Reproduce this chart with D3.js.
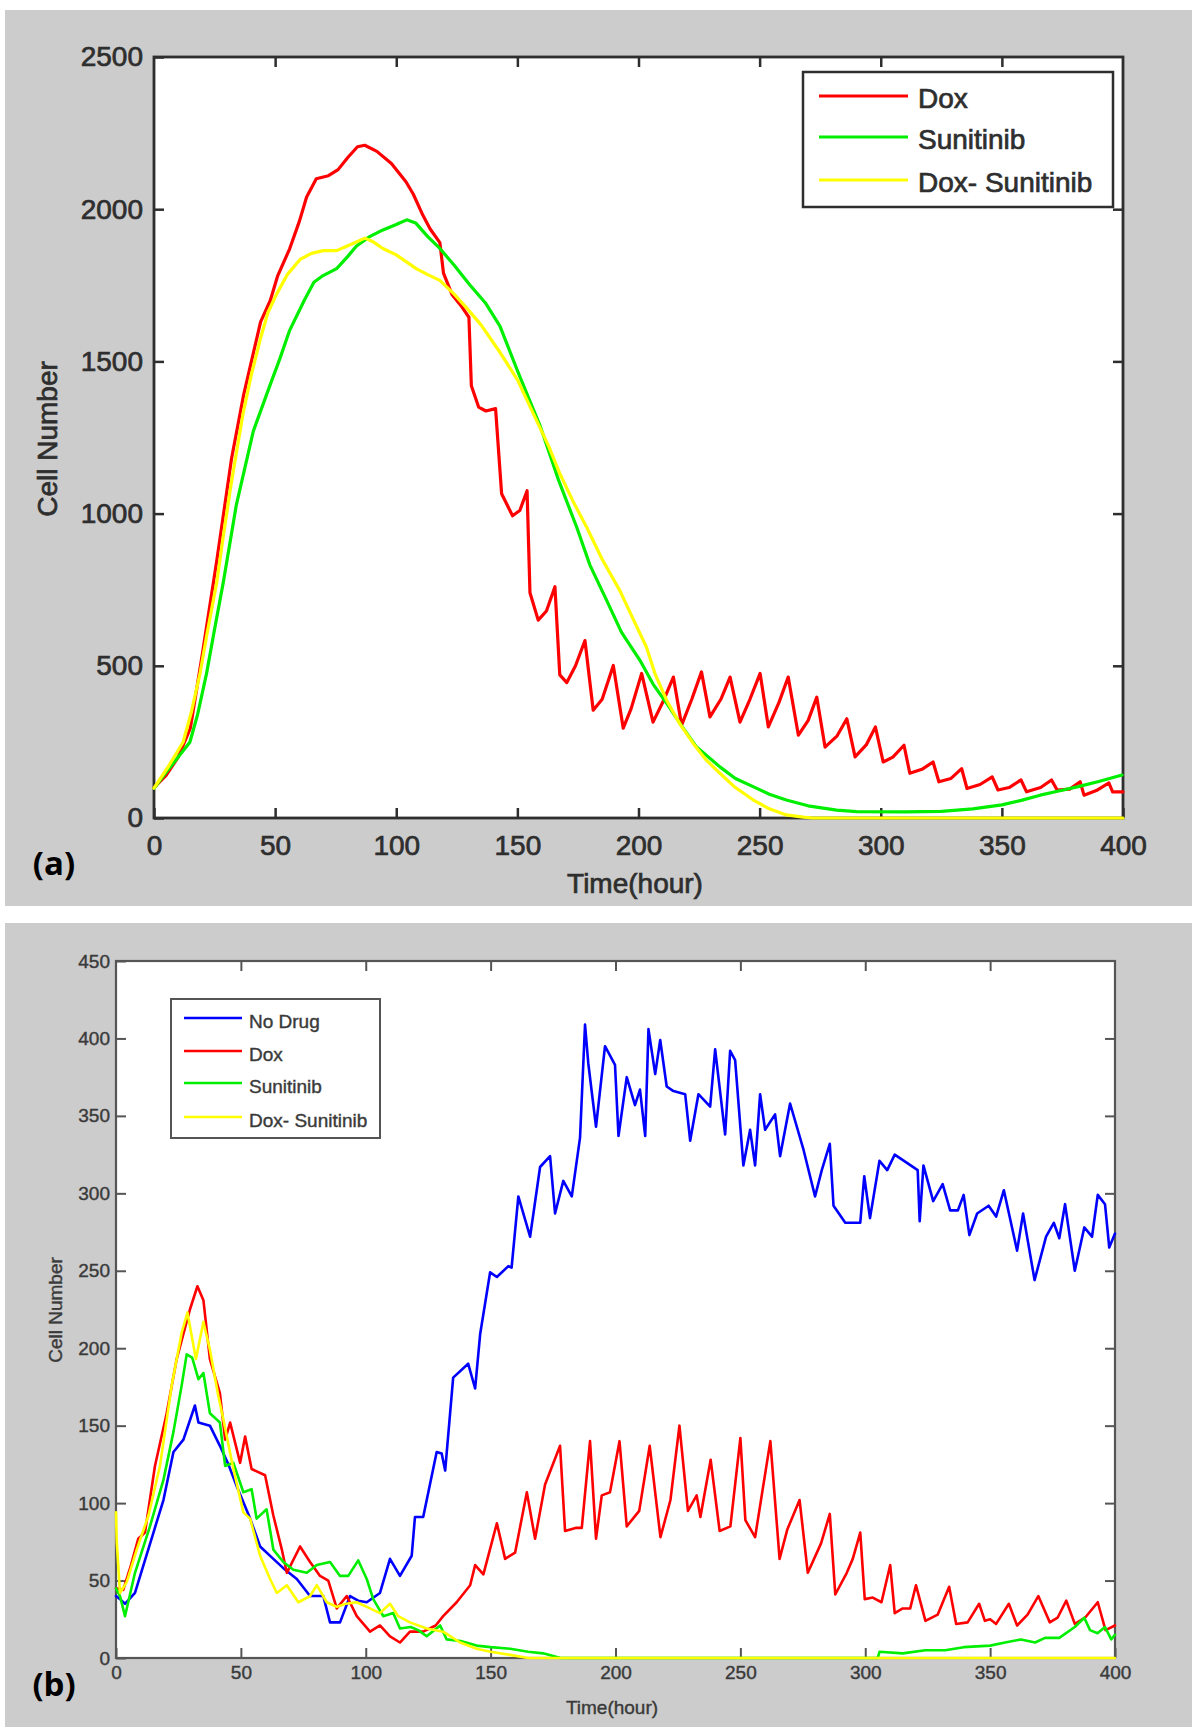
<!DOCTYPE html>
<html><head><meta charset="utf-8">
<script src="https://cdn.jsdelivr.net/npm/d3@7"></script>
<style>body{margin:0;background:#fff}svg{display:block}</style>
</head><body><svg id="c" width="1200" height="1729"></svg>
<script>
// ---------- data ----------
const xTicks = [0, 50, 100, 150, 200, 250, 300, 350, 400];
const yTicksA = [0, 500, 1000, 1500, 2000, 2500];
const yTicksB = [0, 50, 100, 150, 200, 250, 300, 350, 400, 450];
const legendA = ["Dox", "Sunitinib", "Dox- Sunitinib"];
const legendB = ["No Drug", "Dox", "Sunitinib", "Dox- Sunitinib"];

// panel (a): [hour, cell number]
const doxA = [[0,100],[5,140],[10,200],[15,295],[20,540],[26,850],[32,1180],[37,1390],[44,1630],[48,1700],[51,1780],[56,1870],[60,1960],[63,2040],[67,2100],[72,2110],[76,2130],[80,2170],[84,2205],[87,2210],[92,2190],[98,2150],[104,2090],[107,2050],[111,1980],[114,1935],[118,1890],[119.5,1790],[123,1720],[127,1680],[130,1645],[131,1420],[134,1350],[137,1337],[141,1345],[143.5,1065],[148,993],[151,1010],[154,1075],[155.2,740],[158.6,650],[162,680],[165.5,760],[167.5,470],[170.4,445],[174,500],[177.9,583],[181.3,354],[185,390],[189.6,501],[193.7,295],[197,360],[201.3,475],[206,315],[210,380],[214.4,463],[217.8,305],[222,390],[226,480],[229.5,332],[234,390],[237.8,463],[241.9,315],[246,390],[250.2,475],[253.6,299],[258,380],[261.8,463],[266,272],[270,320],[273.6,397],[277,233],[282,270],[286,326],[289.4,201],[294,240],[297.8,299],[301,184],[305,200],[309.6,239],[312,147],[317,160],[321.6,184],[324,119],[329,130],[333.4,162],[335.6,97],[341,110],[346,135],[348.4,92],[353,100],[357.9,125],[360.2,86],[366,100],[370.5,125],[372.8,92],[378,95],[382.3,119],[383.9,75],[389,90],[394.2,115],[395.7,86],[400,86]];
const suniA = [[0,98],[5,150],[10,200],[14.8,249],[18,340],[21.7,475],[25,620],[28.6,774],[34,1029],[41,1271],[47.9,1422],[52,1510],[56,1602],[62,1700],[66,1760],[69.8,1782],[75.4,1805],[80,1845],[83.6,1879],[89,1910],[94.5,1932],[100,1950],[104.3,1965],[108,1955],[113,1910],[118,1871],[124,1815],[130.4,1751],[137,1690],[142.8,1616],[150,1470],[159.3,1290],[167,1110],[174.5,955],[180,830],[186.9,714],[193,610],[200.6,518],[206,440],[211.6,377],[218,300],[224,233],[233.6,168],[240,130],[247.3,103],[254,78],[261,59],[270,40],[281.8,26],[290,21],[310,20],[325,22],[338,30],[350,43],[358,58],[365.8,75],[373,88],[381.5,103],[390,120],[399.6,141]];
const comboA = [[0,98],[6,170],[12,249],[15.5,350],[19,475],[22,610],[25.9,774],[28.5,920],[31.4,1075],[34,1200],[36.8,1330],[40,1450],[43.8,1571],[47,1660],[50.6,1721],[55,1785],[60.3,1835],[65,1855],[69.8,1864],[75.4,1864],[80,1880],[87.1,1905],[90,1895],[94.5,1871],[100,1850],[108.4,1804],[113,1785],[118,1766],[124,1720],[129,1676],[135,1620],[142.8,1530],[150,1440],[156.5,1330],[163,1220],[167.6,1130],[173,1040],[178.6,955],[185,850],[192.3,747],[198,650],[203.3,561],[207,470],[211.6,387],[217,310],[222.6,245],[228,190],[233.6,147],[240,100],[247.4,59],[254,30],[261,10],[268,3],[272,0],[400,0]];

// panel (b): [hour, cell number]
const noDrugB = [[0,40],[1.6,38],[3.6,35],[7.6,42],[11,60],[15,81],[19,102],[23,133],[27,141],[31.6,163],[33,152],[37.6,150],[41.6,137],[45,125],[48.3,111],[53.7,90],[57.7,72],[63,64],[67,58],[72.4,51],[77.7,40],[83,40],[85.7,23],[89.7,23],[93.7,40],[97,37],[100.4,36],[105.7,42],[109.7,64],[113.7,53],[118.4,66],[119.7,91],[123,91],[128.4,133],[130.4,132],[131.8,121],[135,181],[141,190],[143.8,174],[145.8,209],[149.8,249],[152.5,246],[157.1,253],[158.4,252],[161.1,298],[165.8,272],[169.8,317],[173.8,324],[175.8,287],[179.1,308],[182.5,298],[185.8,336],[187.8,409],[189.1,384],[192.2,343],[195.8,395],[199.8,383],[201.2,337],[204.5,375],[207.8,357],[209.8,367],[211.9,337],[213.2,406],[215.9,377],[217.9,399],[220.5,369],[223.2,366],[227.9,364],[229.9,334],[233.2,364],[237.9,356],[239.9,393],[243.9,338],[245.9,392],[247.9,386],[251.2,318],[253.9,341],[255.9,318],[257.9,364],[259.9,341],[263.9,351],[265.9,324],[269.9,358],[275.3,328],[279.9,298],[282.6,315],[285.8,332],[287.3,292],[292,281],[298,281],[299.6,311],[301.9,284],[305.7,321],[308.8,315],[311.8,325],[321,315],[321.8,282],[323.3,318],[327.2,295],[331,306],[334,289],[337.1,289],[339.4,299],[341.7,273],[344.8,287],[349.4,292],[352.4,285],[355.5,302],[360.8,263],[363.2,287],[367.8,244],[372.4,272],[375.5,281],[377.7,271],[380,293],[383.9,250],[387.7,278],[390.8,272],[393.1,299],[396,293],[397.7,265],[400,274]];
const doxB = [[0,45],[2.9,44],[6,60],[8.9,77],[11.6,81],[15.6,124],[20.3,158],[24.3,193],[29.6,225],[32.6,240],[35,231],[37.6,193],[41.6,171],[43.7,141],[45.7,152],[49.7,126],[51.7,143],[54.3,122],[59.7,118],[63,92],[66.4,70],[68.4,55],[73.7,72],[77.7,62],[81.7,53],[85,50],[88.4,32],[92.4,40],[96.4,27],[101.7,17],[105.7,21],[109.7,14],[113.7,10],[117.7,17],[123,17],[128,21],[131,27],[136.4,36],[141.8,47],[143.8,60],[147.1,54],[152.5,87],[155.8,64],[159.8,68],[164.5,107],[167.8,77],[171.8,112],[177.8,137],[179.8,82],[184,84],[186.5,84],[189.8,140],[192.2,77],[194.5,105],[197.8,107],[201.6,140],[204.5,85],[209.5,95],[213.7,137],[218,78],[222,102],[225.6,150],[229,95],[232.5,105],[234,91],[238.1,128],[241.7,82],[246,85],[250,142],[252,89],[255.9,78],[262,140],[265.7,64],[268.8,83],[273.7,102],[277,55],[282.3,74],[285.8,93],[288,41],[292.6,55],[295,64],[298,81],[299.8,38],[303,39],[306.5,36],[310,60],[311.8,29],[315,32],[318,32],[320.3,47],[324.1,24],[329,28],[333.6,46],[336.4,22],[341,23],[345.6,35],[347.9,24],[350,25],[352.4,22],[357.5,35],[360.8,21],[365,28],[369.3,40],[373.9,23],[377,26],[380.5,37],[383.9,22],[388,26],[393.1,36],[396.2,18],[400,21]];
const suniB = [[0,45],[1.6,40],[3.6,27],[7.6,55],[13.6,85],[19,115],[23,146],[26.3,176],[28.3,196],[30.5,194],[33,180],[35,184],[37.6,158],[41.6,152],[43.7,124],[47,126],[51,107],[54.3,109],[56.3,90],[60.3,96],[63,70],[67,62],[71,57],[76.4,55],[80.4,60],[85.7,62],[89.7,53],[93,53],[97,63],[100.4,51],[103,38],[107,27],[111,29],[113.7,19],[118,20],[121,18],[124.4,14],[129.8,21],[132.4,12],[138,11],[144.4,8],[150,7],[157.8,6],[165,4],[171,3],[178,0],[305,0],[305.7,4],[315,3],[324,5],[332,5],[339.4,7],[350,8],[356,10],[362.4,12],[368,10],[372,13],[377.7,13],[383.9,20],[387.7,26],[390,18],[393,16],[396,20],[398.5,12],[400,15]];
const comboB = [[0,94],[0.3,75],[1.6,42],[4.3,49],[8.3,70],[13,92],[17.6,124],[22.3,176],[26.3,210],[28.6,223],[32,193],[35,217],[37.6,199],[41,169],[43,154],[47,122],[51,94],[53.7,90],[57.7,66],[61.7,51],[64.4,42],[68.4,47],[73,36],[77.7,40],[80.4,47],[84.4,36],[88.4,33],[92,35],[96.4,36],[101.7,32],[105.7,29],[109.7,35],[113,27],[117.7,23],[124.4,19],[131,17],[137.8,10],[144.4,6],[150,4],[157.8,2],[165,0],[400,0]];

// ---------- drawing ----------
const svg = d3.select("#c");
const FONT = "'Liberation Sans', Arial, Helvetica, sans-serif";
const fmt = d3.format("d");

function panel(o) {
  const g = svg.append("g");
  g.append("rect").attr("x", o.bg[0]).attr("y", o.bg[1]).attr("width", o.bg[2]).attr("height", o.bg[3]).attr("fill", "#cccccc");
  const x = d3.scaleLinear().domain([0, 400]).range([o.L, o.R]);
  const y = d3.scaleLinear().domain([0, o.ymax]).range([o.B, o.T]);
  g.append("rect").attr("x", o.L).attr("y", o.T).attr("width", o.R - o.L).attr("height", o.B - o.T).attr("fill", "#fff");

  const styleAxis = (sel, fs) => {
    sel.select(".domain").remove();
    sel.selectAll(".tick line").attr("stroke", o.axisColor).attr("stroke-width", o.tickW);
    sel.selectAll("text").attr("font-family", FONT).attr("font-size", fs).attr("fill", o.textColor)
      .attr("stroke", o.textColor).attr("stroke-width", o.textStroke);
  };
  g.append("g").attr("transform", `translate(0,${o.B})`)
    .call(d3.axisBottom(x).tickValues(xTicks).tickFormat(fmt).tickSize(-o.tick).tickPadding(o.xPad))
    .call(s => styleAxis(s, o.tickFs));
  g.append("g").attr("transform", `translate(0,${o.T})`)
    .call(d3.axisTop(x).tickValues(xTicks.slice(1, -1)).tickSize(-o.tick).tickFormat(""))
    .call(s => styleAxis(s, o.tickFs));
  g.append("g").attr("transform", `translate(${o.L},0)`)
    .call(d3.axisLeft(y).tickValues(o.yTicks).tickFormat(fmt).tickSize(-o.tick).tickPadding(o.yPad))
    .call(s => styleAxis(s, o.tickFs));
  g.append("g").attr("transform", `translate(${o.R},0)`)
    .call(d3.axisRight(y).tickValues(o.yTicks.slice(1, -1)).tickSize(-o.tick).tickFormat(""))
    .call(s => styleAxis(s, o.tickFs));
  // axis box
  g.append("rect").attr("x", o.L).attr("y", o.T).attr("width", o.R - o.L).attr("height", o.B - o.T)
    .attr("fill", "none").attr("stroke", o.axisColor).attr("stroke-width", o.boxW);

  // series
  const line = d3.line().x(d => x(d[0])).y(d => y(d[1]));
  o.series.forEach(s => {
    g.append("path").attr("d", line(s.data)).attr("fill", "none").attr("stroke", s.color)
      .attr("stroke-width", o.lineW).attr("stroke-linejoin", "round").attr("stroke-linecap", "round");
  });

  // legend
  const lg = o.legend;
  g.append("rect").attr("x", lg.x).attr("y", lg.y).attr("width", lg.w).attr("height", lg.h)
    .attr("fill", "#fff").attr("stroke", o.axisColor).attr("stroke-width", lg.sw);
  o.series.forEach((s, i) => {
    const yy = lg.rows[i];
    g.append("line").attr("x1", lg.l1).attr("x2", lg.l2).attr("y1", yy).attr("y2", yy)
      .attr("stroke", s.color).attr("stroke-width", o.lineW);
    g.append("text").attr("x", lg.tx).attr("y", yy + lg.dy).attr("dominant-baseline", "central")
      .attr("font-family", FONT).attr("font-size", lg.fs).attr("fill", o.textColor)
      .attr("stroke", o.textColor).attr("stroke-width", o.textStroke).text(s.name);
  });

  // axis titles
  g.append("text").attr("x", o.xLab[0]).attr("y", o.xLab[1]).attr("text-anchor", "middle")
    .attr("dominant-baseline", "central").attr("font-family", FONT).attr("font-size", o.labFs)
    .attr("fill", o.textColor).attr("stroke", o.textColor).attr("stroke-width", o.textStroke).text("Time(hour)");
  g.append("text").attr("transform", `translate(${o.yLab[0]},${o.yLab[1]}) rotate(-90)`).attr("text-anchor", "middle")
    .attr("dominant-baseline", "central").attr("font-family", FONT).attr("font-size", o.labFs)
    .attr("fill", o.textColor).attr("stroke", o.textColor).attr("stroke-width", o.textStroke).text("Cell Number");
  g.append("text").attr("x", o.tag[0]).attr("y", o.tag[1]).attr("text-anchor", "middle")
    .attr("dominant-baseline", "central").attr("font-family", "'Open Sans', 'Noto Sans', sans-serif")
    .attr("font-weight", "bold").attr("font-size", 33).attr("fill", "#000").text(o.tagText);
}

panel({
  bg: [5, 10, 1187, 896], L: 154, R: 1123, T: 57, B: 818, ymax: 2500, yTicks: yTicksA,
  tick: 10, xPad: 17, yPad: 11, tickFs: 28, labFs: 28, axisColor: "#2e2e2e", textColor: "#2e2e2e",
  textStroke: 0.7, tickW: 2.5, boxW: 2.8, lineW: 3.2,
  series: [
    { name: legendA[0], data: doxA, color: "#ff0000" },
    { name: legendA[1], data: suniA, color: "#00ee00" },
    { name: legendA[2], data: comboA, color: "#ffff00" }
  ],
  legend: { x: 803, y: 72, w: 310, h: 135, sw: 2.5, rows: [96, 137, 180], l1: 819, l2: 908, tx: 918, dy: 2, fs: 28 },
  xLab: [635, 883], yLab: [47, 439], tag: [54, 862], tagText: "(a)"
});

panel({
  bg: [5, 923, 1187, 804], L: 116, R: 1115, T: 961, B: 1658, ymax: 450, yTicks: yTicksB,
  tick: 10, xPad: 8, yPad: 6, tickFs: 19, labFs: 19, axisColor: "#555555", textColor: "#3a3a3a",
  textStroke: 0.4, tickW: 2, boxW: 2.2, lineW: 2.6,
  series: [
    { name: legendB[0], data: noDrugB, color: "#0000ff" },
    { name: legendB[1], data: doxB, color: "#ff0000" },
    { name: legendB[2], data: suniB, color: "#00ee00" },
    { name: legendB[3], data: comboB, color: "#ffff00" }
  ],
  legend: { x: 171, y: 999, w: 209, h: 139, sw: 2, rows: [1018, 1051, 1083, 1117], l1: 184, l2: 242, tx: 249, dy: 3, fs: 19 },
  xLab: [612, 1707], yLab: [55, 1310], tag: [54, 1683], tagText: "(b)"
});
</script>
</body></html>
